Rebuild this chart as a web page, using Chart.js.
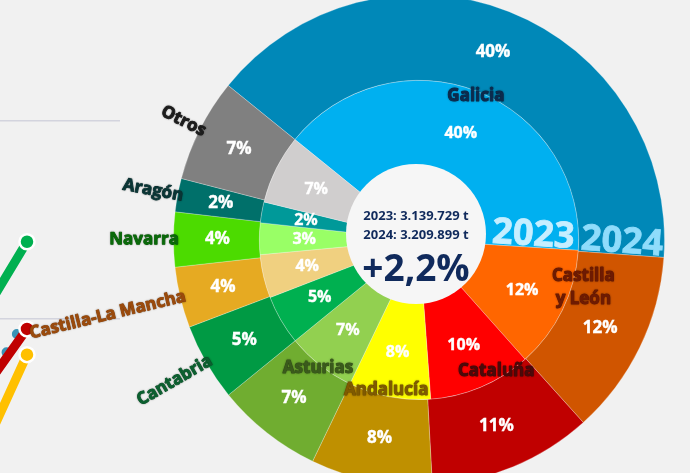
<!DOCTYPE html>
<html>
<head>
<meta charset="utf-8">
<script src="https://cdn.jsdelivr.net/npm/chart.js@4"></script>
<style>
html, body { margin: 0; padding: 0; }
body { width: 690px; height: 473px; overflow: hidden; position: relative; background: #f1f1f1; }
#trend { position: absolute; left: -159px; top: -77px; }
#pie { position: absolute; left: 0; top: -20px; }
</style>
</head>
<body>
<canvas id="trend" width="279" height="792"></canvas>
<canvas id="pie" width="690" height="520"></canvas>
<script>
// shares of total (%), 2023 inner ring, 2024 outer ring
const regions = ['Galicia', 'Castilla y León', 'Cataluña', 'Andalucía', 'Asturias', 'Cantabria', 'Castilla-La Mancha', 'Navarra', 'Aragón', 'Otros'];
const share2023 = [40.2, 12.4, 10.4, 8.3, 7.0, 5.0, 4.4, 3.2, 2.1, 7.0];
const share2024 = [40.3, 12.2, 10.8, 8.0, 7.0, 5.1, 4.0, 3.6, 2.2, 6.8];
const years = ['2023', '2024'];
const totals = [3139729, 3209899];

const colors2023 = ['#00b0f0', '#ff6600', '#ff0000', '#ffff00', '#92d050', '#00b050', '#f0d080', '#99ff66', '#009999', '#d0cece'];
const colors2024 = ['#0088b8', '#d05500', '#c00000', '#bf9000', '#70ad30', '#009a44', '#e6aa22', '#4cdb00', '#00706a', '#808080'];
const labelColors = ['#0c2a4d', '#6e1a02', '#4a0a0a', '#7f5a00', '#3a5a1c', '#0b5f2f', '#9b4a0b', '#0a6a0a', '#0a3535', '#1c1c1c'];

// cropped line chart on the left (index values)
const trendYears = ['2022', '2023', '2024', '2025'];
const trendGreen = [null, 96.1, 103.9, null];
const trendBlue = [null, 91.8, 100.15, null];
const trendRed = [null, 92.9, 99.5, null];
const trendYellow = [null, 87.9, 98.2, null];

const endPoint = c => c.dataIndex === 2 ? 7.5 : 0;
function trendSet(data, color) {
  return {
    data: data, borderColor: color, backgroundColor: color, borderWidth: 9, borderCapStyle: 'round',
    pointRadius: endPoint, pointBackgroundColor: color, pointBorderColor: '#fff', pointBorderWidth: 2.5
  };
}

new Chart(document.getElementById('trend'), {
  type: 'line',
  data: {
    labels: trendYears,
    datasets: [
      trendSet(trendGreen, '#00b050'),
      trendSet(trendRed, '#c00000'),
      trendSet(trendYellow, '#ffc000'),
      Object.assign(trendSet(trendBlue, '#3a93b5'), { borderDash: [0, 21], borderDashOffset: 20, borderWidth: 10, pointRadius: 0 })
    ]
  },
  options: {
    responsive: false,
    animation: false,
    events: [],
    clip: false,
    layout: { padding: 0 },
    plugins: { legend: { display: false }, tooltip: { enabled: false } },
    scales: {
      x: { display: false, offset: false },
      y: {
        min: 80, max: 120,
        ticks: { display: false, stepSize: 10 },
        grid: { drawTicks: false, color: '#d3d4de', lineWidth: 1.5 },
        border: { display: false }
      }
    }
  }
});

function fmt(n) {
  return String(n).replace(/\B(?=(\d{3})+(?!\d))/g, '.');
}

// label placement tweaks (horizontal labels)
const labelPlace = { 0: { r: 155 }, 1: { r: 171, da: -10 }, 2: { r: 152, da: -8 }, 3: { r: 154, da: 1 }, 4: { r: 163 } };

function heavyText(ctx, txt, x, y) {
  ctx.strokeText(txt, x, y);
  ctx.fillText(txt, x, y);
}

const ringLabels = {
  id: 'ringLabels',
  afterDatasetsDraw(chart) {
    const ctx = chart.ctx;
    const metaOut = chart.getDatasetMeta(0);
    const metaIn = chart.getDatasetMeta(1);
    const cx = metaOut.data[0].x, cy = metaOut.data[0].y;
    ctx.save();

    // hole
    ctx.beginPath();
    ctx.arc(cx - 3, cy - 6, 70, 0, Math.PI * 2);
    ctx.fillStyle = '#f6f6f6';
    ctx.fill();

    // percentages
    ctx.textAlign = 'center';
    ctx.textBaseline = 'middle';
    ctx.fillStyle = '#ffffff';
    ctx.strokeStyle = '#ffffff';
    ctx.lineWidth = 0.4;
    [metaOut, metaIn].forEach((meta, d) => {
      const vals = chart.data.datasets[d].data;
      ctx.font = (d === 0 ? 'bold 17px' : 'bold 16px') + ' "Open Sans", sans-serif';
      meta.data.forEach((arc, i) => {
        const a = (arc.startAngle + arc.endAngle) / 2;
        const r = (arc.innerRadius + arc.outerRadius) / 2 + (d === 0 ? -1 : 5);
        heavyText(ctx, Math.round(vals[i]) + '%', cx + r * Math.cos(a), cy + r * Math.sin(a));
      });
    });

    // year captions along the end of Galicia
    ctx.font = 'bold 36px "Open Sans", sans-serif';
    ctx.textBaseline = 'alphabetic';
    [[metaIn, years[0], '#c6eeff', 4], [metaOut, years[1], '#8fdcfb', 0]].forEach(([meta, txt, col, dr]) => {
      const arc = meta.data[0];
      ctx.save();
      ctx.translate(cx, cy);
      ctx.rotate(arc.endAngle);
      ctx.fillStyle = col;
      ctx.strokeStyle = col;
      ctx.lineWidth = 0.8;
      heavyText(ctx, txt, (arc.innerRadius + arc.outerRadius) / 2 + dr, -2);
      ctx.restore();
    });

    // region names
    ctx.font = 'bold 17px "Open Sans", sans-serif';
    ctx.shadowColor = 'rgba(0,0,0,0.3)';
    ctx.shadowBlur = 2;
    ctx.lineWidth = 0.9;
    ctx.lineJoin = 'round';
    metaOut.data.forEach((arc, i) => {
      let a = (arc.startAngle + arc.endAngle) / 2;
      const clock = ((a * 180 / Math.PI + 90) % 360 + 360) % 360;
      ctx.fillStyle = labelColors[i];
      ctx.strokeStyle = labelColors[i];
      if (clock >= 230 && clock <= 330) {
        ctx.save();
        ctx.translate(cx, cy);
        ctx.rotate(a + Math.PI);
        ctx.textAlign = 'right';
        ctx.textBaseline = 'middle';
        heavyText(ctx, regions[i], -240, 0);
        ctx.restore();
      } else {
        const p = labelPlace[i] || { r: 158 };
        a += (p.da || 0) * Math.PI / 180;
        const x = cx + p.r * Math.cos(a), y = cy + p.r * Math.sin(a);
        ctx.textAlign = 'center';
        ctx.textBaseline = 'middle';
        if (regions[i] === 'Castilla y León') {
          heavyText(ctx, 'Castilla', x, y - 11);
          heavyText(ctx, 'y León', x, y + 12);
        } else {
          heavyText(ctx, regions[i], x, y);
        }
      }
    });
    ctx.shadowBlur = 0;
    ctx.shadowColor = 'transparent';

    // centre
    const hx = cx - 3, hy = cy - 6;
    ctx.fillStyle = '#102a5c';
    ctx.textAlign = 'center';
    ctx.textBaseline = 'middle';
    ctx.font = 'bold 13px "Open Sans", sans-serif';
    ctx.fillText(years[0] + ': ' + fmt(totals[0]) + ' t', hx, hy - 18);
    ctx.fillText(years[1] + ': ' + fmt(totals[1]) + ' t', hx, hy + 1);
    const growth = (totals[1] / totals[0] - 1) * 100;
    ctx.font = 'bold 37px "Open Sans", sans-serif';
    ctx.fillText('+' + growth.toFixed(1).replace('.', ',') + '%', hx, hy + 36);
    ctx.restore();
  }
};

new Chart(document.getElementById('pie'), {
  type: 'doughnut',
  data: {
    labels: regions,
    datasets: [
      { label: years[1], data: share2024, backgroundColor: colors2024, weight: 86 },
      { label: years[0], data: share2023, backgroundColor: colors2023, weight: 100 }
    ]
  },
  options: {
    responsive: false,
    animation: false,
    events: [],
    rotation: -51,
    cutout: '24.4%',
    borderWidth: 1,
    borderColor: 'rgba(255,255,255,0.25)',
    layout: { padding: { left: 173, right: 25, top: 14, bottom: 14 } },
    plugins: { legend: { display: false }, tooltip: { enabled: false } }
  },
  plugins: [ringLabels]
});
</script>
</body>
</html>
